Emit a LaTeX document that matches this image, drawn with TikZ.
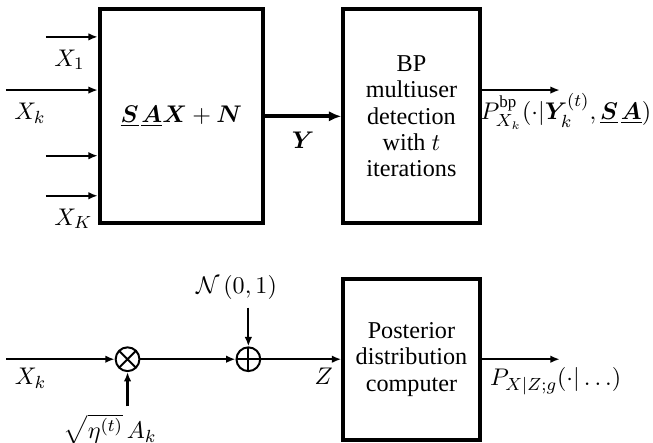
\documentclass[tikz,border=0pt]{standalone}
\usepackage{amsmath,bm}
\usepackage{fontspec}
\setmainfont{Liberation Serif}
\usetikzlibrary{arrows.meta, positioning, calc}

\begin{document}
\begin{tikzpicture}[
    node distance=1.22cm and 1.22cm,
    font=\fontsize{11}{12}\selectfont,
    % Define styles
    block/.style={
        rectangle,
        draw=black,
        line width=1.8pt,
        minimum width=2.18cm,
        minimum height=3.42cm,
        align=center
    },
    mixer/.style={
        circle,
        draw=black,
        line width=0.9pt,
        minimum size=0.38cm,
        inner sep=0pt
    },
    prodnode/.style={
        mixer,
        path picture={\draw[line width=0.9pt]
            (path picture bounding box.north west) -- (path picture bounding box.south east)
            (path picture bounding box.north east) -- (path picture bounding box.south west);}
    },
    sumnode/.style={
        mixer,
        path picture={\draw[line width=0.9pt]
            (path picture bounding box.north) -- (path picture bounding box.south)
            (path picture bounding box.east) -- (path picture bounding box.west);}
    },
    line/.style={
        draw,
        -{Latex[length=1.5mm,width=1.2mm]},
        line width=1pt,
        black
    },
    thickline/.style={
        draw,
        -{Latex[length=2mm,width=1.7mm]},
        line width=1.8pt,
        black
    }
]
\useasboundingbox (-2.90,-5.22) rectangle (7.54,1.86);

% Top row: channel -> BP detector
\node[block, minimum width=2.61cm] (chan) {$\underline{\bm{S}}\mkern2mu\underline{\bm{A}}\bm{X}+\bm{N}$};
\node[block, right=of chan] (bp) {BP\\multiuser\\detection\\with $t$\\iterations};

% Bottom row: gain -> noise -> posterior
\node[block, minimum height=2.58cm, below=0.82cm of bp] (post) {Posterior\\distribution\\computer};
\node[sumnode, left=1.28cm of post] (sum) {};
\node[prodnode, left=1.52cm of sum] (mult) {};
\node[above=0.62cm of sum, xshift=-0.19cm] (noise) {$\mathcal{N}\left(0,1\right)$};
\node[below=0.55cm of mult, xshift=-0.28cm] (gain) {$\sqrt{\eta^{(t)}}\,A_k$};

% Free ends
\coordinate[left=0.83cm of chan.west, yshift=1.27cm] (in1);
\coordinate[left=1.47cm of chan.west, yshift=0.42cm] (ink);
\coordinate[left=0.83cm of chan.west, yshift=-0.63cm] (inj);
\coordinate[left=0.83cm of chan.west, yshift=-1.27cm] (inK);
\coordinate[left=1.73cm of mult.west] (xin);
\coordinate[right=1.25cm of bp.east, yshift=0.42cm] (bpout);
\coordinate[right=1.25cm of post.east] (postout);

% Inputs of the channel
\path[line] (in1) node[below right, yshift=-2pt] {$X_1$} -- (in1 -| chan.west);
\path[line] (ink) node[below right, yshift=-2pt] {$X_k$} -- (ink -| chan.west);
\path[line] (inj) -- (inj -| chan.west);
\path[line] (inK) node[below right, yshift=-2pt] {$X_K$} -- (inK -| chan.west);

% Channel output
\path[thickline] (chan) -- node[below, yshift=-3pt] {$\bm{Y}$} (bp);
\path[line] (bp.east |- bpout) node[below right, inner sep=0pt, xshift=-1pt, yshift=-1pt] {$P^{\mathrm{bp}}_{X_k}(\cdot|\bm{Y}^{(t)}_k,\underline{\bm{S}}\mkern2mu\underline{\bm{A}})$} -- (bpout);

% Scalar channel
\path[line] (xin) node[below right] {$X_k$} -- (mult);
\path[line] (gain.north -| mult) -- (mult);
\path[line] (mult) -- (sum);
\path[line] (noise.south -| sum) -- (sum);
\path[line] (sum) -- node[pos=1, below left] {$Z$} (post);
\path[line] (post) -- node[pos=0, below right] {$P_{X|Z;g}(\cdot|\ldots)$} (postout);

\end{tikzpicture}
\end{document}
